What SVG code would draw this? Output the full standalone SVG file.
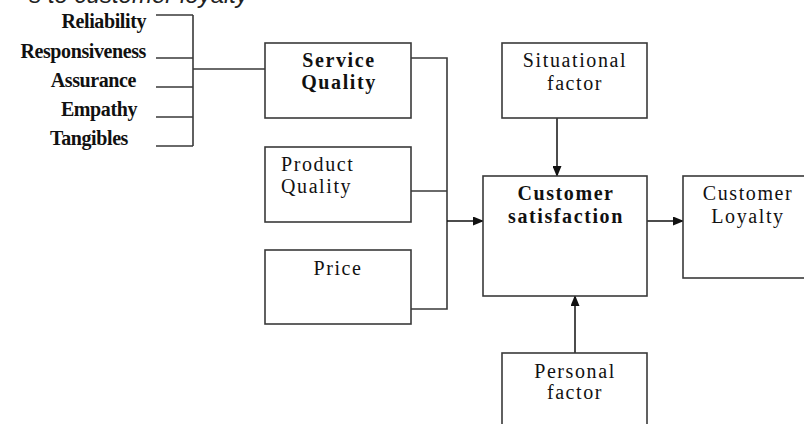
<svg xmlns="http://www.w3.org/2000/svg" width="804" height="424" viewBox="0 0 804 424">
<defs>
<style>
.box{fill:#fff;stroke:#3a3a3a;stroke-width:1.6}
.ln{fill:none;stroke:#3a3a3a;stroke-width:1.6}
.arr{fill:none;stroke:#111;stroke-width:1.5;marker-end:url(#ah)}
.t{font-family:"Liberation Serif","Times New Roman",serif;font-size:20px;fill:#111;letter-spacing:1.6px}
.b{font-weight:bold}
.lab{font-family:"Liberation Serif","Times New Roman",serif;font-size:20px;font-weight:bold;fill:#111;letter-spacing:-0.4px;text-anchor:end}
.mid{text-anchor:middle}
.cap{font-family:"Liberation Sans",Arial,sans-serif;font-style:italic;font-size:24px;fill:#222;text-anchor:end}
</style>
<marker id="ah" markerWidth="11" markerHeight="9" refX="10" refY="4.5" orient="auto" markerUnits="userSpaceOnUse">
<path d="M0,0 L11,4.5 L0,9 z" fill="#111"/>
</marker>
</defs>
<rect width="804" height="424" fill="#fff"/>
<text class="cap" x="248" y="3">s to customer loyalty</text>

<g id="dimensions">
<text class="lab" x="146" y="28">Reliability</text>
<text class="lab" x="146" y="58">Responsiveness</text>
<text class="lab" x="136" y="87">Assurance</text>
<text class="lab" x="137" y="116">Empathy</text>
<text class="lab" x="128" y="145">Tangibles</text>
</g>

<g id="connectors">
<path class="ln" d="M156,15 H193 M156,58 H193 M156,87 H193 M156,117 H193 M156,146 H193 M193,15 V146 M193,69 H265"/>
<path class="ln" d="M411,58 H447 V309 H411 M411,191 H447"/>
<line class="arr" x1="447" y1="221" x2="483" y2="221"/>
<line class="arr" x1="647" y1="221" x2="683" y2="221"/>
<line class="arr" x1="557" y1="118" x2="557" y2="176"/>
<line class="arr" x1="575" y1="353" x2="575" y2="296"/>
</g>

<g id="service-quality">
<rect class="box" x="265" y="43" width="146" height="75"/>
<text class="t b mid" x="339" y="67">Service</text>
<text class="t b mid" x="339" y="89">Quality</text>
</g>

<g id="product-quality">
<rect class="box" x="265" y="147" width="146" height="75"/>
<text class="t" x="281" y="171">Product</text>
<text class="t" x="281" y="193">Quality</text>
</g>

<g id="price">
<rect class="box" x="265" y="250" width="146" height="74"/>
<text class="t mid" x="338" y="275">Price</text>
</g>

<g id="situational-factor">
<rect class="box" x="502" y="43" width="145" height="75"/>
<text class="t mid" x="575" y="67">Situational</text>
<text class="t mid" x="575" y="90">factor</text>
</g>

<g id="customer-satisfaction">
<rect class="box" x="483" y="176" width="164" height="120"/>
<text class="t b mid" x="566" y="200">Customer</text>
<text class="t b mid" x="566" y="223">satisfaction</text>
</g>

<g id="customer-loyalty">
<rect class="box" x="683" y="176" width="130" height="102"/>
<text class="t mid" x="748" y="200">Customer</text>
<text class="t mid" x="748" y="223">Loyalty</text>
</g>

<g id="personal-factor">
<rect class="box" x="502" y="353" width="145" height="80"/>
<text class="t mid" x="575" y="378">Personal</text>
<text class="t mid" x="575" y="399">factor</text>
</g>
</svg>
